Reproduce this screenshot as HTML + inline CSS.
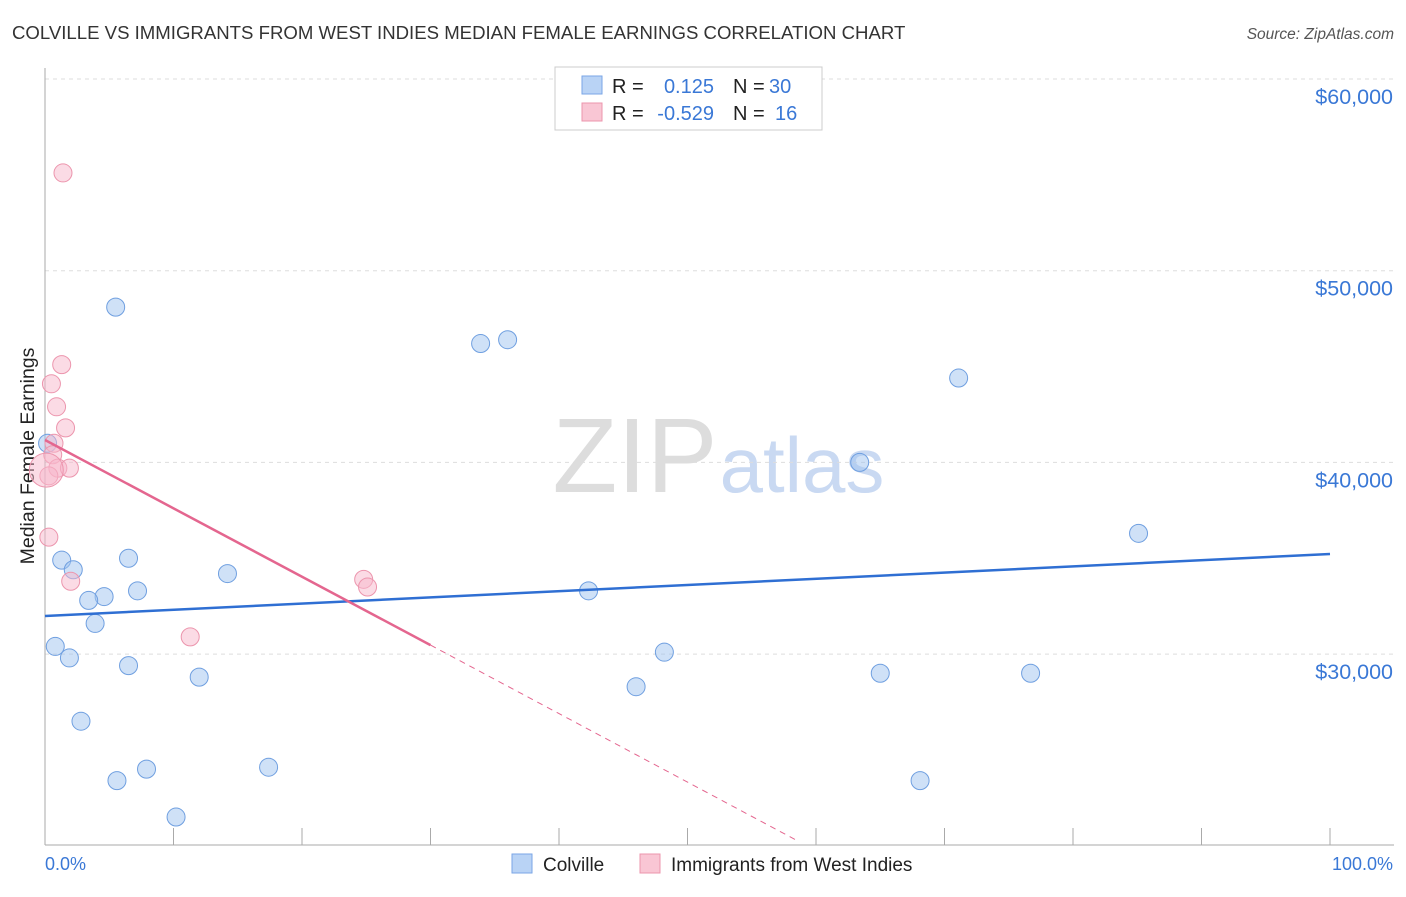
<!DOCTYPE html>
<html><head><meta charset="utf-8"><style>
body{margin:0;background:#fff;font-family:"Liberation Sans",sans-serif;}
svg text{font-family:"Liberation Sans",sans-serif;}
</style></head><body>
<svg id="chart" width="1406" height="892">
<text x="12" y="39" font-size="18.6" fill="#333">COLVILLE VS IMMIGRANTS FROM WEST INDIES MEDIAN FEMALE EARNINGS CORRELATION CHART</text>
<text x="1394" y="39" font-size="15.5" fill="#555" font-style="italic" text-anchor="end">Source: ZipAtlas.com</text>
<text x="635" y="492" font-size="106" fill="#ddd" font-family="Liberation Serif" text-anchor="middle">ZIP</text>
<text x="802" y="492" font-size="78" fill="#c9d9f2" text-anchor="middle">atlas</text>
<text transform="translate(34,456) rotate(-90)" font-size="19.5" fill="#222" text-anchor="middle">Median Female Earnings</text>
<g id="grid"></g><g id="marks"></g>
<g>
<rect x="555" y="67" width="267" height="63" fill="#fff" stroke="#ccc"/>
<rect x="582" y="76" width="20" height="18" fill="#b9d3f5" stroke="#7aa6e6"/>
<rect x="582" y="103" width="20" height="18" fill="#f9c6d4" stroke="#ec95ad"/>
<text x="612" y="93" font-size="20" fill="#222">R =</text>
<text x="714" y="93" font-size="20" fill="#3a78d6" text-anchor="end">0.125</text>
<text x="733" y="93" font-size="20" fill="#222">N =</text>
<text x="769" y="93" font-size="20" fill="#3a78d6">30</text>
<text x="612" y="120" font-size="20" fill="#222">R =</text>
<text x="714" y="120" font-size="20" fill="#3a78d6" text-anchor="end">-0.529</text>
<text x="733" y="120" font-size="20" fill="#222">N =</text>
<text x="775" y="120" font-size="20" fill="#3a78d6">16</text>
</g>
<g>
<rect x="512" y="854" width="20" height="19" fill="#b9d3f5" stroke="#7aa6e6"/>
<text x="543" y="871" font-size="19" fill="#222">Colville</text>
<rect x="640" y="854" width="20" height="19" fill="#f9c6d4" stroke="#ec95ad"/>
<text x="671" y="871" font-size="19" fill="#222">Immigrants from West Indies</text>
</g>
<text x="45" y="870" font-size="18" fill="#3a78d6">0.0%</text>
<text x="1393" y="870" font-size="18" fill="#3a78d6" text-anchor="end">100.0%</text>
</svg>
<script>
const yTicks=[30000,40000,50000,60000];
const yTickLabels=["$30,000","$40,000","$50,000","$60,000"];
const colvilleX=[5.5,33.9,36.0,71.1,63.4,85.1,1.3,2.2,6.5,14.2,7.2,4.6,3.4,42.3,3.9,0.8,1.9,6.5,48.2,12.0,46.0,65.0,76.7,2.8,5.6,7.9,17.4,10.2,68.1,0.2];
const colvilleY=[48100,46200,46400,44400,40000,36300,34900,34400,35000,34200,33300,33000,32800,33300,31600,30400,29800,29400,30100,28800,28300,29000,29000,26500,23400,24000,24100,21500,23400,41000];
const wiX=[1.4,1.3,0.5,0.9,1.6,0.7,0.6,1.0,1.9,0.3,0.3,2.0,24.8,25.1,11.3,0.1];
const wiY=[55100,45100,44100,42900,41800,41000,40400,39700,39700,39300,36100,33800,33900,33500,30900,39600];
const wiR=[9,9,9,9,9,9,9,9,9,9,9,9,9,9,9,17];
const colvilleTrend=[31988,35222];
const wiTrend=[41170,30470,20320];
const wiTrendX=[0,30,58.4];
const xs=p=>45+p*12.85, ys=v=>79+(60000-v)*0.01917;
const NS="http://www.w3.org/2000/svg";
const grid=document.getElementById('grid'), marks=document.getElementById('marks');
function mk(tag,attrs,parent){const e=document.createElementNS(NS,tag);for(const k in attrs)e.setAttribute(k,attrs[k]);parent.appendChild(e);return e;}
yTicks.forEach((t,i)=>{
 const l=mk('line',{x1:45,x2:1394,y1:ys(t),y2:ys(t),stroke:'#ddd','stroke-dasharray':'4,4'},grid);
 
 
 const tx=mk('text',{x:1393,y:ys(t)+25,'font-size':21.5,fill:'#3a78d6','text-anchor':'end'},grid);
 tx.textContent=yTickLabels[i];
 
 
});
const ax=mk('line',{x1:45,x2:45,y1:68,y2:845,stroke:'#aaa'},grid);


const bx=mk('line',{x1:45,x2:1394,y1:845,y2:845,stroke:'#aaa'},grid);


for(let i=0;i<=10;i++){const t=mk('line',{x1:xs(i*10),x2:xs(i*10),y1:828,y2:845,stroke:'#aaa'},grid);
 
 }
colvilleX.forEach((x,i)=>{const c=mk('circle',{cx:xs(x),cy:ys(colvilleY[i]),r:9,fill:'rgba(160,196,240,0.5)',stroke:'#6f9fe0','stroke-width':1},marks);
 
 });
wiX.forEach((x,i)=>{const c=mk('circle',{cx:xs(x),cy:ys(wiY[i]),r:wiR[i],fill:'rgba(248,184,204,0.5)',stroke:'#ec95ad','stroke-width':1},marks);
 
 });
const bl=mk('line',{x1:xs(0),y1:ys(colvilleTrend[0]),x2:xs(100),y2:ys(colvilleTrend[1]),stroke:'#2f6fd3','stroke-width':2.5},marks);


const pl=mk('line',{x1:xs(wiTrendX[0]),y1:ys(wiTrend[0]),x2:xs(wiTrendX[1]),y2:ys(wiTrend[1]),stroke:'#e4668f','stroke-width':2.5},marks);


const pd=mk('line',{x1:xs(wiTrendX[1]),y1:ys(wiTrend[1]),x2:xs(wiTrendX[2]),y2:ys(wiTrend[2]),stroke:'#e4668f','stroke-width':1,'stroke-dasharray':'6,5'},marks);


</script>
</body></html>
